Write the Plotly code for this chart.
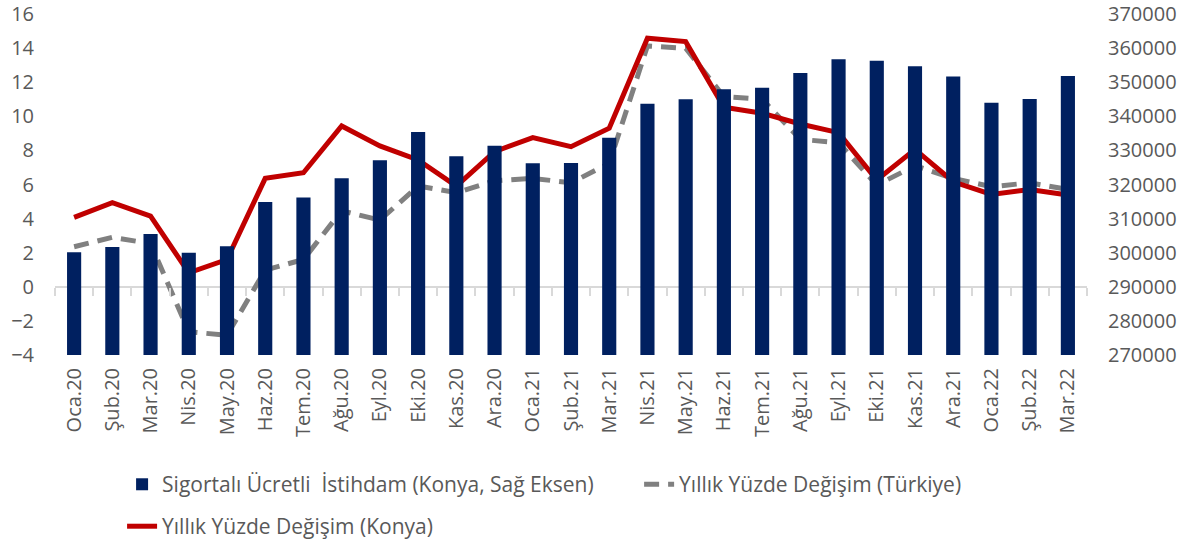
import plotly.graph_objects as go

categories = ["Oca.20", "Şub.20", "Mar.20", "Nis.20", "May.20", "Haz.20", "Tem.20", "Ağu.20",
              "Eyl.20", "Eki.20", "Kas.20", "Ara.20", "Oca.21", "Şub.21", "Mar.21", "Nis.21",
              "May.21", "Haz.21", "Tem.21", "Ağu.21", "Eyl.21", "Eki.21", "Kas.21", "Ara.21",
              "Oca.22", "Şub.22", "Mar.22"]

istihdam_konya = [300100, 301700, 305500, 300000, 301900, 314900, 316200, 321800,
                  327100, 335400, 328300, 331400, 326200, 326300, 333700, 343700,
                  345000, 347900, 348400, 352700, 356700, 356300, 354700, 351700,
                  344000, 345100, 351800]

degisim_turkiye = [2.35, 2.9, 2.54, -2.64, -2.84, 0.98, 1.6, 4.46,
                   3.91, 5.91, 5.52, 6.22, 6.36, 6.1, 7.24, 14.13,
                   13.99, 11.15, 11.0, 8.65, 8.45, 5.97, 7.1, 6.36,
                   5.87, 6.1, 5.71]

degisim_konya = [4.07, 4.93, 4.15, 0.82, 1.6, 6.36, 6.69, 9.43,
                 8.26, 7.44, 5.91, 7.93, 8.75, 8.22, 9.3, 14.58,
                 14.38, 10.53, 10.18, 9.55, 9.04, 6.26, 8.06, 6.16,
                 5.42, 5.71, 5.38]

left_ticks = [-4, -2, 0, 2, 4, 6, 8, 10, 12, 14, 16]
right_ticks = [270000, 280000, 290000, 300000, 310000, 320000, 330000, 340000, 350000, 360000, 370000]

FONT = "Open Sans"
TXT = "#595959"

fig = go.Figure()

fig.add_trace(go.Bar(
    x=categories, y=istihdam_konya, yaxis="y2", width=0.37,
    marker=dict(color="#002060", line=dict(width=0)),
    name="Sigortalı Ücretli  İstihdam (Konya, Sağ Eksen)", legend="legend",
))
fig.add_trace(go.Scatter(
    x=categories, y=degisim_turkiye, mode="lines",
    line=dict(color="#808080", width=5, dash="15px,9px"),
    name="Yıllık Yüzde Değişim (Türkiye)", legend="legend3",
))
fig.add_trace(go.Scatter(
    x=categories, y=degisim_konya, mode="lines",
    line=dict(color="#C00000", width=5),
    name="Yıllık Yüzde Değişim (Konya)", legend="legend2",
))
# helper trace for the boundary tick marks on the zero line
fig.add_trace(go.Scatter(
    x=[0, len(categories) - 1], y=[None, None], xaxis="x2", mode="lines",
    showlegend=False, hoverinfo="skip",
))

leg_common = dict(orientation="h", xanchor="left", yanchor="top",
                  font=dict(size=21, color=TXT), bgcolor="rgba(0,0,0,0)")

fig.update_layout(
    width=1194, height=548,
    margin=dict(l=55, r=107, t=14, b=193, autoexpand=False),
    paper_bgcolor="white", plot_bgcolor="white",
    font=dict(family=FONT, color=TXT, size=18),
    xaxis=dict(
        type="category", range=[-0.5, len(categories) - 0.5],
        tickangle=-90, tickfont=dict(size=20, color=TXT),
        showline=False, showgrid=False, ticks="", ticklabelstandoff=8,
    ),
    xaxis2=dict(
        overlaying="x", anchor="free", position=0.2, range=[-0.5, len(categories) - 0.5],
        tick0=-0.5, dtick=1, ticks="outside", ticklen=8, tickcolor="#D9D9D9", tickwidth=2,
        showticklabels=False, showline=False, showgrid=False, zeroline=False,
    ),
    yaxis=dict(
        range=[-4, 16], tickvals=left_ticks, showgrid=False,
        zeroline=True, zerolinecolor="#D9D9D9", zerolinewidth=2,
        tickfont=dict(size=20, color=TXT), ticks="", ticklabelstandoff=20,
    ),
    yaxis2=dict(
        overlaying="y", side="right", range=[270000, 370000], tickvals=right_ticks,
        showgrid=False, zeroline=False, tickformat="d",
        tickfont=dict(size=20, color=TXT), ticks="", ticklabelstandoff=20,
    ),
    legend=dict(x=0.065, y=-0.32, **leg_common),
    legend3=dict(x=0.566, y=-0.32, **leg_common),
    legend2=dict(x=0.065, y=-0.443, **leg_common),
)

fig.write_html("out.html")
